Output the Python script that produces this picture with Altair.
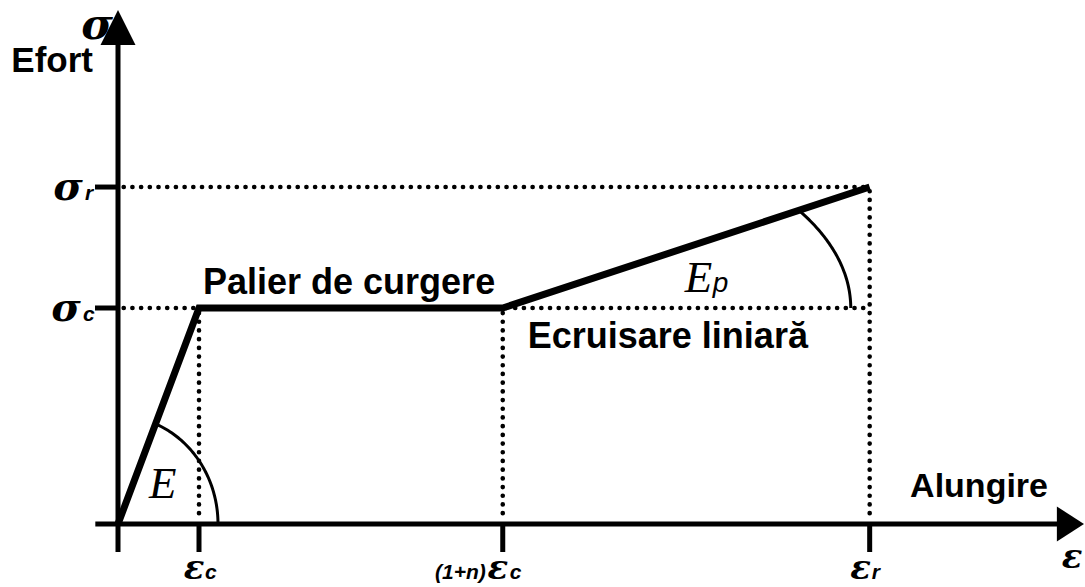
import altair as alt
import numpy as np
import pandas as pd

# Idealised elastic - perfectly plastic - linear hardening law
eps_c = 1.0        # yield strain
n_plateau = 3.75   # plateau length, as a multiple of eps_c
eps_r = 9.28       # ultimate strain
sig_c = 1.0        # yield stress
sig_r = 1.56       # ultimate stress
eps_h = (1 + n_plateau) * eps_c

curve_strain = [0.0, eps_c, eps_h, eps_r]
curve_stress = [0.0, sig_c, sig_c, sig_r]

W, H = 1085, 587
# pixels per unit and origin placement
X0, XS = 118, 81
Y0, YS = 524, 216

xs = alt.Scale(domain=[-X0 / XS, (W - X0) / XS], nice=False, zero=False)
ys = alt.Scale(domain=[-(H - Y0) / YS, Y0 / YS], nice=False, zero=False)

SANS = "Liberation Sans"
GREEK_FONT = "DejaVu Serif"
SERIF = "Liberation Serif"

# axis extents (data units) and arrow tips
x_axis = (-0.28, 11.7)
y_axis = (-0.13, 2.30)
x_tip = (1084 - X0) / XS
y_tip = (Y0 - 10) / YS
tick_x = 28 / YS
tick_y = 23 / XS


def X(f="x"):
    return alt.X(f"{f}:Q", scale=xs, axis=None)


def Y(f="y"):
    return alt.Y(f"{f}:Q", scale=ys, axis=None)


def rules(df, width, dash=None, cap="butt"):
    kw = dict(color="black", strokeWidth=width, strokeCap=cap)
    if dash is not None:
        kw["strokeDash"] = dash
    return alt.Chart(df).mark_rule(**kw).encode(
        x=X("x"), x2="x2:Q", y=Y("y"), y2="y2:Q"
    )


# main axes
axes = rules(pd.DataFrame({
    "x": [x_axis[0], 0.0], "x2": [x_axis[1], 0.0],
    "y": [0.0, y_axis[0]], "y2": [0.0, y_axis[1]],
}), 5)

# ticks on both axes
xt = [eps_c, eps_h, eps_r]
x_ticks = rules(pd.DataFrame({
    "x": xt, "x2": xt, "y": [0.0] * 3, "y2": [-tick_x] * 3,
}), 5)
yt = [sig_c, sig_r]
y_ticks = rules(pd.DataFrame({
    "x": [-tick_y] * 2, "x2": [0.0] * 2, "y": yt, "y2": yt,
}), 5)

# dotted guide lines
guides = rules(pd.DataFrame({
    "x": [0.07, 0.07, eps_c, eps_h, eps_r],
    "x2": [eps_r, eps_r, eps_c, eps_h, eps_r],
    "y": [sig_r, sig_c, 0.05, 0.05, 0.05],
    "y2": [sig_r, sig_c, sig_c, sig_c, sig_r],
}), 4.6, dash=[0.1, 8.6], cap="round")

# the stress-strain law itself
curve = alt.Chart(pd.DataFrame({
    "x": curve_strain, "y": curve_stress, "o": range(4)
})).mark_line(color="black", strokeWidth=7, strokeJoin="miter").encode(
    x=X(), y=Y(), order="o:Q"
)


# angle markers for the moduli E and Ep
def angle_arc(cx, cy, slope, a, b, key):
    t_end = np.arctan(slope * a / b)
    t = np.linspace(0, t_end, 60)
    return pd.DataFrame({
        "x": cx + a * np.cos(t), "y": cy + b * np.sin(t),
        "o": np.arange(len(t)), "k": key,
    })


arc_df = pd.concat([
    angle_arc(0.0, 0.0, sig_c / eps_c, 100 / XS, 108 / YS, "E"),
    angle_arc(eps_h, sig_c, (sig_r - sig_c) / (eps_r - eps_h), 348 / XS, 186 / YS, "Ep"),
])
arcs = alt.Chart(arc_df).mark_line(color="black", strokeWidth=3).encode(
    x=X(), y=Y(), order="o:Q", detail="k:N"
)

# arrow heads at the axis ends
heads = alt.layer(
    alt.Chart(pd.DataFrame({"x": [0.0], "y": [y_tip]})).mark_point(
        shape="M0,0L-1,2L1,2Z", size=1225, filled=True, color="black", opacity=1
    ).encode(x=X(), y=Y()),
    alt.Chart(pd.DataFrame({"x": [x_tip], "y": [0.0]})).mark_point(
        shape="M0,0L-1.55,-1L-1.55,1Z", size=1225, filled=True, color="black", opacity=1
    ).encode(x=X(), y=Y()),
)


def label(text, x, y, dx=0, dy=0, font=SANS, size=34, weight="bold",
          style="normal", align="left"):
    return alt.Chart(pd.DataFrame({"x": [x], "y": [y], "t": [text]})).mark_text(
        dx=dx, dy=dy, font=font, fontSize=size, fontWeight=weight,
        fontStyle=style, align=align, baseline="alphabetic", color="black",
    ).encode(x=X(), y=Y(), text="t:N")


GREEK = dict(font=GREEK_FONT, weight="bold", style="italic")
SUB = dict(font=SANS, size=21, weight="bold", style="italic")
BOT = 55  # baseline of the strain labels below the axis

texts = [
    # axis titles
    label("Efort", 0.0, y_tip, dx=-25, dy=62, size=35, align="right"),
    label("σ", 0.0, y_tip, dx=-5, dy=29, size=43, align="right", **GREEK),
    label("Alungire", x_tip, 0.0, dx=-36, dy=-27, align="right"),
    label("ε", x_tip, 0.0, dx=-12, dy=44, size=34, align="center", **GREEK),
    # stress tick labels
    label("σ", 0.0, sig_r, dx=-50, dy=13, size=40, align="center", **GREEK),
    label("r", 0.0, sig_r, dx=-33, dy=13, **SUB),
    label("σ", 0.0, sig_c, dx=-52, dy=13, size=40, align="center", **GREEK),
    label("c", 0.0, sig_c, dx=-35, dy=13, **SUB),
    # strain tick labels
    label("ε", eps_c, 0.0, dx=-5, dy=BOT, size=34, align="center", **GREEK),
    label("c", eps_c, 0.0, dx=6, dy=BOT, **SUB),
    label("(1+n)", eps_h, 0.0, dx=-17, dy=BOT, align="right", **SUB),
    label("ε", eps_h, 0.0, dx=-5, dy=BOT, size=34, align="center", **GREEK),
    label("c", eps_h, 0.0, dx=7, dy=BOT, **SUB),
    label("ε", eps_r, 0.0, dx=-9, dy=BOT, size=34, align="center", **GREEK),
    label("r", eps_r, 0.0, dx=2, dy=BOT, **SUB),
    # branch names
    label("Palier de curgere", eps_c, sig_c, dx=4, dy=-14, size=36),
    label("Ecruisare liniară", eps_h, sig_c, dx=25, dy=40, size=36),
    # moduli
    label("E", 0.0, 0.0, dx=31, dy=-26, font=SERIF, size=45, weight="normal", style="italic"),
    label("E", eps_h, sig_c, dx=182, dy=-16, font=SERIF, size=45, weight="normal", style="italic"),
    label("p", eps_h, sig_c, dx=210, dy=-16, font=SANS, size=28, weight="normal", style="italic"),
]

chart = alt.layer(guides, axes, x_ticks, y_ticks, arcs, curve, heads, *texts).properties(
    width=W, height=H, padding=0, autosize=alt.AutoSizeParams(type="none"),
    background="white",
).configure_view(stroke=None)

chart.save("out.html", embed_options={"renderer": "svg", "actions": False})
